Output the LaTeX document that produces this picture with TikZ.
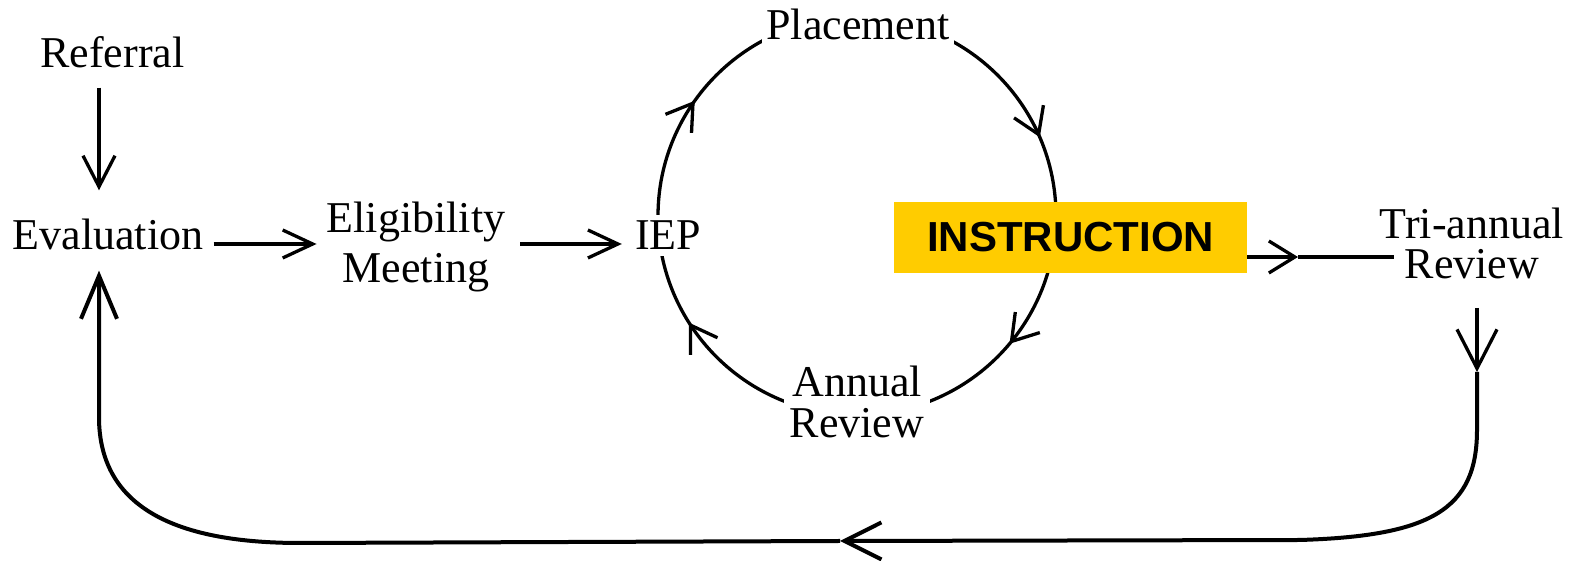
\documentclass[tikz,border=0pt]{standalone}
\usepackage{fontspec}
\setmainfont{Liberation Serif}
\newfontfamily\sansfam{Liberation Sans}
\usetikzlibrary{arrows.meta,decorations.markings}
\definecolor{instryellow}{RGB}{255,204,0}
\begin{document}
\begin{tikzpicture}[x=1pt,y=1pt,
  lbl/.style={inner sep=0pt, anchor=base, font=\fontsize{44}{50}\selectfont},
  cover/.style={fill=white, inner sep=6pt},
  conn/.style={line width=3.3pt},
  loopline/.style={line width=4pt},
]
\useasboundingbox (0,0) rectangle (1583,561);
% circle (drawn first, covered by the text nodes)
\coordinate (cc) at (857,345);
\draw[conn, postaction={decorate}, decoration={markings,
   mark=at position 0.0647 with {\arrowreversed{Straight Barb[length=25pt,width=32pt]}},
   mark=at position 0.4017 with {\arrowreversed{Straight Barb[length=25pt,width=32pt]}},
   mark=at position 0.590 with {\arrowreversed{Straight Barb[length=25pt,width=32pt]}},
   mark=at position 0.889 with {\arrowreversed{Straight Barb[length=25pt,width=32pt]}}}]
   (cc) circle[radius=199pt];
% nodes
\node[lbl] (ref) at (112.5,493) {Referral};
\node[lbl] (eval) at (108,311) {Evaluation};
\node[lbl] (elig) at (416,328) {\fontsize{44}{50}\selectfont\begin{tabular}[t]{@{}c@{}}Eligibility\\Meeting\end{tabular}};
\node[lbl, cover] (iep) at (668,311) {IEP};
\node[lbl, cover, inner sep=4pt] (place) at (858,521) {Placement};
\node[lbl, cover] (annual) at (857,164) {\fontsize{44}{38}\selectfont\begin{tabular}[t]{@{}c@{}}Annual\\Review\end{tabular}};
\node[lbl] (tri) at (1472,322) {\fontsize{44}{36}\selectfont\begin{tabular}[t]{@{}c@{}}Tri-annual\\Review\end{tabular}};
\node[fill=instryellow, minimum width=353pt, minimum height=71pt, inner sep=0pt,
      font=\sansfam\bfseries\fontsize{42}{46}\selectfont] (instr) at (1070.5,323.5) {INSTRUCTION};
% helper coordinates
\coordinate (xl) at (99,0);
\coordinate (r1) at (0,317);
\coordinate (r2) at (0,304);
\coordinate (m1) at (1298,304);
\coordinate (m2) at (1477,189);
\coordinate (m3) at (840,20);
% connectors
\draw[conn, -{Straight Barb[length=31pt,width=32pt]}, shorten <=19pt, shorten >=29pt]
   (ref.south -| xl) -- (eval.north -| xl);
\draw[conn, -{Straight Barb[length=30pt,width=28pt]}, shorten <=10pt, shorten >=10pt]
   (eval.east |- r1) -- (elig.west |- r1);
\draw[conn, -{Straight Barb[length=30pt,width=28pt]}, shorten <=15pt, shorten >=7pt]
   (elig.east |- r1) -- (iep.west |- r1);
\draw[conn, -{Straight Barb[length=26pt,width=32pt]}] (instr.east |- r2) -- (m1);
\draw[conn, shorten >=-14pt] (m1) -- (tri.west |- r2);
\draw[conn, -{Straight Barb[length=39pt,width=40pt]}, shorten <=18pt] (tri.south -| m2) -- (m2);
\draw[loopline, -{Straight Barb[length=37pt,width=37pt]}]
   (m2) -- (1477,131) .. controls (1477,51) and (1430,25) .. (1300,21) -- (m3);
\draw[loopline, -{Straight Barb[length=43pt,width=36pt]}, shorten >=20pt]
   (m3) -- (300,18) .. controls (180,18) and (99,51) .. (99,144) -- (eval.south -| xl);
\end{tikzpicture}
\end{document}
